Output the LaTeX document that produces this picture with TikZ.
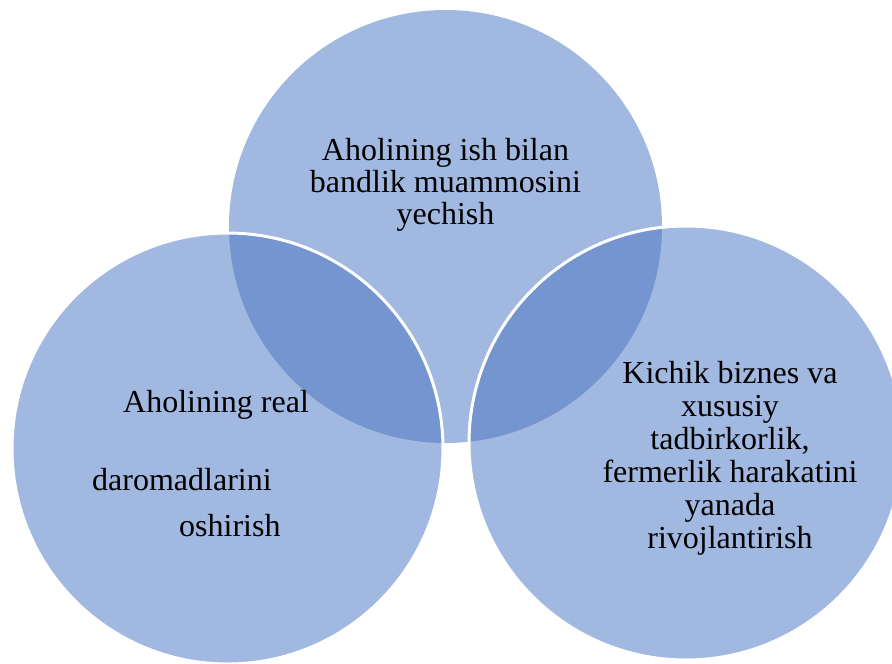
\documentclass[tikz,border=0pt]{standalone}
\usepackage{fontspec}
\setmainfont{Liberation Serif}
\definecolor{lightc}{RGB}{161,184,225}
\definecolor{darkc}{RGB}{116,149,208}
\tikzset{
  lbl/.style={inner sep=0pt, font=\fontsize{32}{33}\selectfont, text=black},
  ring/.style={draw=white, line width=3pt}
}
\begin{document}
\begin{tikzpicture}[x=1pt,y=-1pt]
\useasboundingbox (0,0) rectangle (892,664);
% circle centres
\coordinate (ct) at (445.5,226.5);
\coordinate (cl) at (227.5,448.5);
\coordinate (cr) at (686,443);
% fills
\fill[lightc] (ct) circle (216.5);
\fill[lightc] (cl) circle (215.5);
\fill[lightc] (cr) circle (217);
\begin{scope}
  \clip (ct) circle (216.5);
  \fill[darkc] (cl) circle (215.5);
  \fill[darkc] (cr) circle (217);
\end{scope}
% white outlines of the lower circles
\draw[ring] (cl) circle (215.5);
\draw[ring] (cr) circle (217);
% top text
\node[lbl, anchor=base] (t1) at (445.5,160) {Aholining ish bilan};
\node[lbl, anchor=base] (t2) at (445.5,192) {bandlik muammosini};
\node[lbl, anchor=base] (t3) at (445.5,224) {yechish};
% left text
\node[lbl, anchor=base west] (l1) at (123,412) {Aholining real};
\node[lbl, anchor=base west] (l2) at (92,490) {daromadlarini};
\node[lbl, anchor=base west] (l3) at (179,536) {oshirish};
% right text
\node[lbl, anchor=base] (r1) at (730,383) {Kichik biznes va};
\node[lbl, anchor=base] (r2) at (730,416) {xususiy};
\node[lbl, anchor=base] (r3) at (730,449) {tadbirkorlik,};
\node[lbl, anchor=base] (r4) at (730,482) {fermerlik harakatini};
\node[lbl, anchor=base] (r5) at (730,515) {yanada};
\node[lbl, anchor=base] (r6) at (730,548) {rivojlantirish};
\end{tikzpicture}
\end{document}
